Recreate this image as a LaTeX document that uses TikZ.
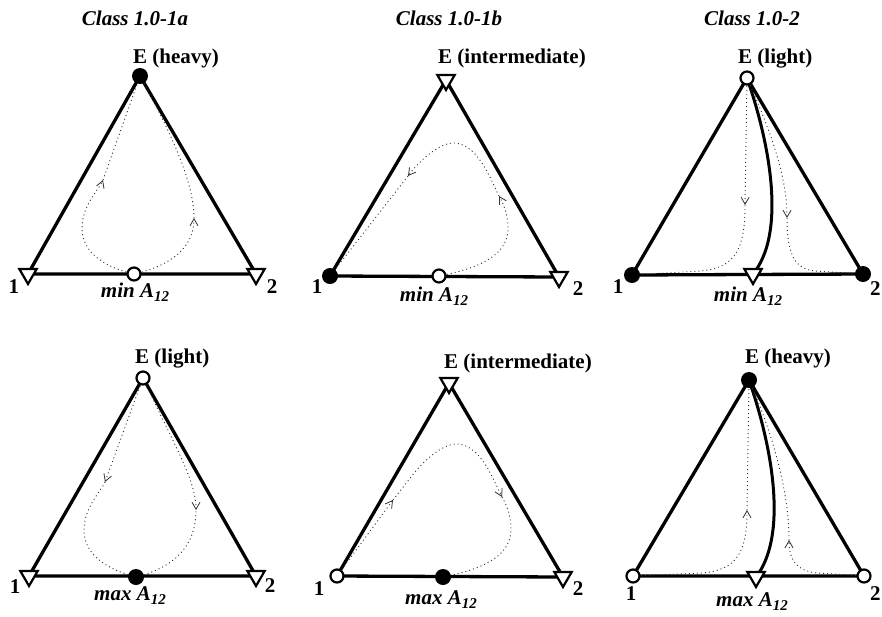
\documentclass[tikz,border=0pt]{standalone}
\usepackage{fontspec}
\setmainfont{Liberation Serif}
\usetikzlibrary{arrows.meta,shapes.geometric}
\newcommand\lowsub[1]{\raisebox{-4.5pt}{\fontsize{15}{15}\selectfont #1}}
\begin{document}
\begin{tikzpicture}[x=1pt,y=-1pt,
  every node/.style={font=\fontsize{21}{25}\selectfont\bfseries, inner sep=0pt},
  edge/.style={line width=3.3pt, line join=miter},
  solidflow/.style={line width=3pt},
  flow/.style={line width=0.9pt, dash pattern=on 1pt off 3pt, black!80},
  tipA/.tip={Straight Barb[length=7pt,width=8pt,line width=0.8pt]},
  opendot/.style={circle, draw, line width=2.2pt, fill=white, minimum size=13pt},
  fulldot/.style={circle, fill=black, minimum size=16pt},
  tri/.style={regular polygon, regular polygon sides=3, shape border rotate=180, draw, line width=2.2pt, fill=white, minimum size=20pt},
  title/.style={font=\fontsize{21}{25}\selectfont\bfseries\itshape, anchor=base},
  elabel/.style={anchor=base west},
  vlabel/.style={anchor=base},
  mlabel/.style={font=\fontsize{21}{25}\selectfont\bfseries\itshape, anchor=base},
]
\useasboundingbox (0,0) rectangle (882,616);
\clip (0,0) rectangle (882,616);

% ---------------- Panel 1: Class 1.0-1a ----------------
\coordinate (aE) at (140,76);
\coordinate (a1) at (28,274);
\coordinate (a2) at (256,274);
\coordinate (am) at (134,274);
\draw[edge] (a1) -- (a2) -- (aE) -- cycle;
\draw[flow,-{tipA}] (am) .. controls (100,266) and (82,250) .. (82,228)
  .. controls (82,205) and (100,188) .. (103,180) coordinate (aL);
\draw[flow] (aL) -- (aE);
\draw[flow,-{tipA}] (am) .. controls (170,266) and (194,248) .. (194,218) coordinate (aR);
\draw[flow] (aR) .. controls (194,185) and (175,140) .. (aE);
\node[fulldot] (aEn) at (aE) {};
\node[tri] (a1n) at (a1) {};
\node[tri] (a2n) at (a2) {};
\node[opendot] (amn) at (am) {};
\node[title] (at) at (135,25) {Class 1.0-1a};
\node[elabel] (aEl) at (133,63) {E (heavy)};
\node[vlabel] (a1l) at (14,293) {1};
\node[vlabel] (a2l) at (272,293) {2};
\node[mlabel] (aml) at (135,297) {min A\lowsub{12}};

% ---------------- Panel 2: Class 1.0-1b ----------------
\coordinate (bE) at (446,80);
\coordinate (b1) at (330,276);
\coordinate (b2) at (559,277);
\coordinate (bm) at (439,276);
\draw[edge] (b1) -- (b2) -- (bE) -- cycle;
\draw[flow,-{tipA}] (bm) .. controls (480,268) and (510,255) .. (508,225)
  .. controls (507,212) and (503,203) .. (499,196) coordinate (bR);
\draw[flow,-{tipA}] (bR) .. controls (490,178) and (478,145) .. (455,143)
  .. controls (440,142) and (420,160) .. (408,176) coordinate (bL);
\draw[flow] (bL) -- (b1);
\node[tri] (bEn) at (bE) {};
\node[fulldot] (b1n) at (b1) {};
\node[tri] (b2n) at (b2) {};
\node[opendot] (bmn) at (bm) {};
\node[title] (bt) at (449,25) {Class 1.0-1b};
\node[elabel] (bEl) at (438,63) {E (intermediate)};
\node[vlabel] (b1l) at (317,293) {1};
\node[vlabel] (b2l) at (578,295) {2};
\node[mlabel] (bml) at (434,301) {min A\lowsub{12}};

% ---------------- Panel 3: Class 1.0-2 ----------------
\coordinate (cE) at (747,78);
\coordinate (c1) at (632,275);
\coordinate (c2) at (863,274);
\coordinate (cm) at (753,274);
\draw[edge] (c1) -- (c2) -- (cE) -- cycle;
\draw[solidflow] (cE) .. controls (772,150) and (785,235) .. (cm);
\draw[flow,-{tipA}] (cE) -- (745,205) coordinate (cL);
\draw[flow] (cL) .. controls (745,250) and (735,268) .. (700,271) -- (c1);
\draw[flow,-{tipA}] (cE) .. controls (770,130) and (787,175) .. (787,218) coordinate (cR);
\draw[flow] (cR) .. controls (787,255) and (795,269) .. (815,271) -- (c2);
\node[opendot] (cEn) at (cE) {};
\node[fulldot] (c1n) at (c1) {};
\node[fulldot] (c2n) at (c2) {};
\node[tri] (cmn) at (cm) {};
\node[title] (ct) at (752,25) {Class 1.0-2};
\node[elabel] (cEl) at (738,63) {E (light)};
\node[vlabel] (c1l) at (618,293) {1};
\node[anchor=base west] (c2l) at (870,295) {2};
\node[mlabel] (cml) at (748,301) {min A\lowsub{12}};

% ---------------- Panel 4 ----------------
\coordinate (dE) at (143,378);
\coordinate (d1) at (29,576);
\coordinate (d2) at (256,576);
\coordinate (dm) at (136,577);
\draw[edge] (d1) -- (d2) -- (dE) -- cycle;
\draw[flow] (dm) .. controls (102,568) and (84,552) .. (84,530)
  .. controls (84,507) and (102,490) .. (105,482) coordinate (dL);
\draw[flow,{tipA}-] (dL) -- (dE);
\draw[flow] (dm) .. controls (172,568) and (196,548) .. (196,510) coordinate (dR);
\draw[flow,{tipA}-] (dR) .. controls (196,480) and (174,445) .. (dE);
\node[opendot] (dEn) at (dE) {};
\node[tri] (d1n) at (d1) {};
\node[tri] (d2n) at (d2) {};
\node[fulldot] (dmn) at (dm) {};
\node[elabel] (dEl) at (135,363) {E (light)};
\node[vlabel] (d1l) at (15,593) {1};
\node[vlabel] (d2l) at (270,592) {2};
\node[mlabel] (dml) at (130,600) {max A\lowsub{12}};

% ---------------- Panel 5 ----------------
\coordinate (eE) at (449,383);
\coordinate (e1) at (337,576);
\coordinate (e2) at (563,577);
\coordinate (em) at (443,577);
\draw[edge] (e1) -- (e2) -- (eE) -- cycle;
\draw[flow,-{tipA}] (e1) -- (393,500) coordinate (eL);
\draw[flow,-{tipA}] (eL) -- (411,477) .. controls (423,461) and (443,443) .. (458,444)
  .. controls (481,446) and (493,479) .. (502,497) coordinate (eR);
\draw[flow] (eR) .. controls (506,504) and (510,513) .. (511,526)
  .. controls (513,556) and (483,569) .. (em);
\node[tri] (eEn) at (eE) {};
\node[opendot] (e1n) at (e1) {};
\node[tri] (e2n) at (e2) {};
\node[fulldot] (emn) at (em) {};
\node[elabel] (eEl) at (444,368) {E (intermediate)};
\node[vlabel] (e1l) at (319,595) {1};
\node[vlabel] (e2l) at (578,595) {2};
\node[mlabel] (eml) at (441,604) {max A\lowsub{12}};

% ---------------- Panel 6 ----------------
\coordinate (fE) at (749,380);
\coordinate (f1) at (633,576);
\coordinate (f2) at (864,576);
\coordinate (fm) at (756,577);
\draw[edge] (f1) -- (f2) -- (fE) -- cycle;
\draw[solidflow] (fE) .. controls (774,452) and (787,537) .. (fm);
\draw[flow,-{tipA}] (f1) -- (702,573) .. controls (737,570) and (747,552) .. (747,510) coordinate (fL);
\draw[flow] (fL) -- (fE);
\draw[flow,-{tipA}] (f2) -- (817,573) .. controls (797,571) and (789,560) .. (789,540) coordinate (fR);
\draw[flow] (fR) .. controls (789,490) and (772,432) .. (fE);
\node[fulldot] (fEn) at (fE) {};
\node[opendot] (f1n) at (f1) {};
\node[opendot] (f2n) at (f2) {};
\node[tri] (fmn) at (fm) {};
\node[elabel] (fEl) at (745,363) {E (heavy)};
\node[vlabel] (f1l) at (631,600) {1};
\node[anchor=base west] (f2l) at (870,600) {2};
\node[mlabel] (fml) at (752,606) {max A\lowsub{12}};
\end{tikzpicture}
\end{document}
